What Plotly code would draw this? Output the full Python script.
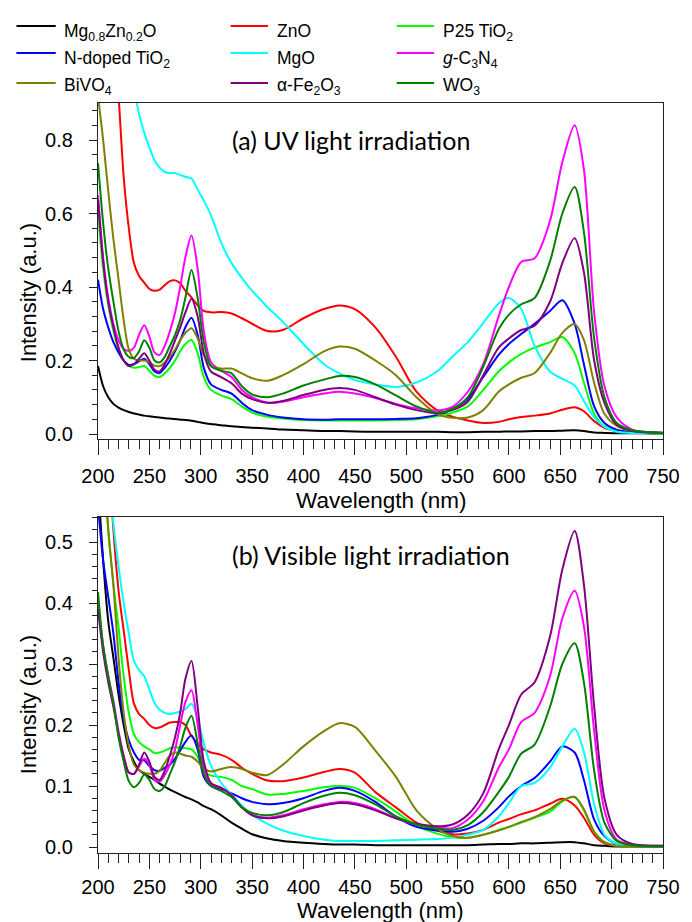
import plotly.graph_objects as go

# ---------------- data ----------------
WL = [200, 205, 210, 215, 220, 225, 230, 235, 240, 245,
      250, 255, 260, 265, 270, 275, 280, 285, 291, 297,
      303, 310, 320, 330, 340, 350, 365, 380, 400,
      420, 435, 450, 470, 490, 510, 530, 545,
      560, 575, 590, 600, 612, 625, 640, 652, 664,
      673, 683, 693, 705, 720, 750]

NAMES = ["Mg<sub>0.8</sub>Zn<sub>0.2</sub>O", "ZnO", "P25 TiO<sub>2</sub>",
         "N-doped TiO<sub>2</sub>", "MgO", "<i>g</i>-C<sub>3</sub>N<sub>4</sub>",
         "BiVO<sub>4</sub>", "α-Fe<sub>2</sub>O<sub>3</sub>", "WO<sub>3</sub>"]

# (a) UV light irradiation
A_MG = [0.185, 0.13, 0.10, 0.082, 0.072, 0.065, 0.060, 0.056, 0.053, 0.050,
        0.048, 0.046, 0.045, 0.043, 0.042, 0.041, 0.039, 0.038, 0.036, 0.033,
        0.030, 0.027, 0.024, 0.021, 0.019, 0.017, 0.015, 0.012, 0.010,
        0.008, 0.008, 0.007, 0.006, 0.006, 0.006, 0.006, 0.005,
        0.005, 0.006, 0.006, 0.007, 0.007, 0.008, 0.008, 0.009, 0.010,
        0.008, 0.004, 0.003, 0.002, 0.002, 0.002]
A_ZNO = [1.70, 1.50, 1.30, 1.10, 0.92, 0.70, 0.56, 0.465, 0.43, 0.412,
         0.395, 0.39, 0.393, 0.405, 0.416, 0.418, 0.41, 0.39, 0.372, 0.35,
         0.335, 0.331, 0.332, 0.328, 0.315, 0.30, 0.28, 0.283, 0.315,
         0.34, 0.35, 0.34, 0.29, 0.21, 0.115, 0.065, 0.047,
         0.037, 0.03, 0.033, 0.04, 0.046, 0.05, 0.056, 0.066, 0.073,
         0.062, 0.035, 0.017, 0.008, 0.004, 0.002]
A_P25 = [0.60, 0.45, 0.35, 0.28, 0.23, 0.20, 0.185, 0.18, 0.182, 0.185,
         0.172, 0.158, 0.155, 0.165, 0.18, 0.20, 0.225, 0.245, 0.256, 0.22,
         0.155, 0.12, 0.105, 0.095, 0.075, 0.058, 0.047, 0.042, 0.038,
         0.037, 0.037, 0.037, 0.037, 0.038, 0.040, 0.048, 0.058,
         0.075, 0.12, 0.17, 0.195, 0.218, 0.235, 0.25, 0.264, 0.22,
         0.14, 0.055, 0.02, 0.008, 0.004, 0.002]
A_NTIO = [0.42, 0.34, 0.29, 0.25, 0.222, 0.20, 0.188, 0.19, 0.198, 0.205,
          0.19, 0.17, 0.166, 0.18, 0.20, 0.225, 0.255, 0.29, 0.316, 0.27,
          0.18, 0.135, 0.12, 0.11, 0.085, 0.065, 0.052, 0.045, 0.040,
          0.039, 0.040, 0.040, 0.040, 0.041, 0.043, 0.052, 0.068,
          0.095, 0.155, 0.215, 0.245, 0.272, 0.30, 0.335, 0.364, 0.30,
          0.19, 0.075, 0.03, 0.012, 0.005, 0.002]
A_MGO = [1.40, 1.35, 1.28, 1.20, 1.13, 1.06, 1.00, 0.94, 0.87, 0.82,
         0.78, 0.745, 0.725, 0.713, 0.71, 0.71, 0.705, 0.70, 0.695, 0.665,
         0.635, 0.595, 0.52, 0.465, 0.425, 0.39, 0.345, 0.305, 0.245,
         0.19, 0.165, 0.147, 0.135, 0.128, 0.14, 0.17, 0.21,
         0.25, 0.302, 0.355, 0.37, 0.34, 0.24, 0.17, 0.15, 0.132,
         0.09, 0.045, 0.02, 0.006, 0.003, 0.002]
A_GCN = [0.65, 0.48, 0.37, 0.30, 0.255, 0.232, 0.226, 0.235, 0.27, 0.296,
         0.265, 0.222, 0.215, 0.24, 0.28, 0.33, 0.40, 0.48, 0.54, 0.45,
         0.28, 0.195, 0.172, 0.155, 0.12, 0.10, 0.085, 0.088, 0.10,
         0.11, 0.115, 0.11, 0.098, 0.082, 0.07, 0.064, 0.074,
         0.115, 0.19, 0.32, 0.40, 0.468, 0.478, 0.58, 0.74, 0.84,
         0.72, 0.33, 0.13, 0.045, 0.012, 0.004]
A_BIVO = [0.92, 0.80, 0.66, 0.53, 0.42, 0.31, 0.23, 0.205, 0.20, 0.20,
          0.195, 0.186, 0.185, 0.195, 0.21, 0.23, 0.255, 0.275, 0.288, 0.26,
          0.215, 0.185, 0.178, 0.178, 0.165, 0.152, 0.145, 0.16, 0.19,
          0.225, 0.238, 0.232, 0.20, 0.16, 0.10, 0.055, 0.044,
          0.045, 0.065, 0.115, 0.135, 0.153, 0.166, 0.22, 0.275, 0.299,
          0.256, 0.139, 0.055, 0.022, 0.008, 0.003]
A_FE = [0.637, 0.47, 0.36, 0.29, 0.235, 0.20, 0.185, 0.19, 0.205, 0.22,
        0.20, 0.175, 0.17, 0.19, 0.22, 0.255, 0.29, 0.33, 0.368, 0.32,
        0.22, 0.17, 0.155, 0.138, 0.11, 0.095, 0.085, 0.09, 0.106,
        0.12, 0.125, 0.12, 0.10, 0.08, 0.065, 0.056, 0.065,
        0.088, 0.16, 0.235, 0.26, 0.283, 0.295, 0.36, 0.465, 0.533,
        0.44, 0.20, 0.085, 0.025, 0.008, 0.003]
A_WO3 = [0.737, 0.574, 0.45, 0.36, 0.28, 0.23, 0.21, 0.207, 0.225, 0.255,
         0.235, 0.20, 0.195, 0.21, 0.24, 0.27, 0.31, 0.37, 0.446, 0.37,
         0.25, 0.185, 0.172, 0.165, 0.13, 0.108, 0.10, 0.11, 0.132,
         0.148, 0.158, 0.155, 0.135, 0.105, 0.075, 0.058, 0.068,
         0.10, 0.183, 0.285, 0.325, 0.353, 0.37, 0.47, 0.60, 0.672,
         0.55, 0.26, 0.10, 0.03, 0.01, 0.003]

# (b) Visible light irradiation
B_MG = [0.60, 0.47, 0.37, 0.31, 0.25, 0.20, 0.16, 0.14, 0.126, 0.12,
        0.115, 0.11, 0.104, 0.099, 0.094, 0.09, 0.086, 0.082, 0.078, 0.073,
        0.067, 0.062, 0.052, 0.04, 0.03, 0.021, 0.014, 0.01, 0.007,
        0.005, 0.004, 0.004, 0.003, 0.003, 0.003, 0.003, 0.003,
        0.003, 0.004, 0.005, 0.005, 0.006, 0.006, 0.007, 0.008, 0.008,
        0.006, 0.003, 0.002, 0.001, 0.001, 0.001]
B_ZNO = [0.95, 0.80, 0.65, 0.52, 0.42, 0.355, 0.29, 0.235, 0.218, 0.21,
         0.20, 0.195, 0.196, 0.20, 0.204, 0.205, 0.205, 0.20, 0.182, 0.17,
         0.16, 0.155, 0.151, 0.143, 0.13, 0.12, 0.109, 0.108, 0.114,
         0.123, 0.128, 0.122, 0.09, 0.065, 0.04, 0.027, 0.021,
         0.022, 0.028, 0.04, 0.046, 0.054, 0.06, 0.071, 0.079, 0.068,
         0.048, 0.02, 0.006, 0.002, 0.001, 0.001]
B_P25 = [0.75, 0.62, 0.52, 0.43, 0.36, 0.28, 0.22, 0.185, 0.172, 0.165,
         0.16, 0.154, 0.155, 0.158, 0.162, 0.163, 0.163, 0.162, 0.16, 0.148,
         0.125, 0.117, 0.115, 0.11, 0.10, 0.095, 0.086, 0.087, 0.092,
         0.098, 0.10, 0.097, 0.08, 0.058, 0.035, 0.022, 0.016,
         0.015, 0.02, 0.028, 0.033, 0.04, 0.048, 0.058, 0.075, 0.082,
         0.06, 0.025, 0.008, 0.002, 0.001, 0.001]
B_NTIO = [0.56, 0.47, 0.41, 0.35, 0.27, 0.21, 0.175, 0.155, 0.143, 0.142,
          0.133, 0.126, 0.125, 0.13, 0.135, 0.145, 0.158, 0.172, 0.183, 0.16,
          0.115, 0.10, 0.095, 0.088, 0.08, 0.074, 0.07, 0.072, 0.08,
          0.092, 0.097, 0.092, 0.074, 0.05, 0.033, 0.027, 0.025,
          0.03, 0.043, 0.065, 0.083, 0.10, 0.113, 0.14, 0.165, 0.155,
          0.11, 0.045, 0.018, 0.005, 0.002, 0.001]
B_MGO = [0.90, 0.75, 0.62, 0.53, 0.46, 0.40, 0.35, 0.305, 0.29, 0.28,
         0.258, 0.236, 0.225, 0.22, 0.218, 0.22, 0.222, 0.226, 0.235, 0.21,
         0.17, 0.133, 0.105, 0.086, 0.068, 0.053, 0.038, 0.027, 0.018,
         0.012, 0.01, 0.01, 0.01, 0.011, 0.012, 0.013, 0.015,
         0.02, 0.028, 0.05, 0.072, 0.10, 0.105, 0.13, 0.165, 0.194,
         0.156, 0.07, 0.02, 0.005, 0.002, 0.001]
B_GCN = [0.40, 0.33, 0.28, 0.24, 0.19, 0.15, 0.122, 0.12, 0.132, 0.145,
         0.135, 0.11, 0.107, 0.118, 0.135, 0.16, 0.20, 0.237, 0.257, 0.20,
         0.13, 0.102, 0.097, 0.085, 0.065, 0.053, 0.048, 0.052, 0.062,
         0.07, 0.074, 0.072, 0.062, 0.047, 0.037, 0.032, 0.031,
         0.045, 0.075, 0.13, 0.16, 0.205, 0.22, 0.28, 0.375, 0.42,
         0.362, 0.19, 0.06, 0.012, 0.004, 0.002]
B_BIVO = [0.85, 0.68, 0.52, 0.43, 0.31, 0.22, 0.165, 0.135, 0.126, 0.122,
          0.12, 0.12, 0.125, 0.138, 0.15, 0.155, 0.153, 0.15, 0.148, 0.14,
          0.128, 0.124, 0.128, 0.131, 0.128, 0.122, 0.118, 0.135, 0.165,
          0.19, 0.203, 0.197, 0.158, 0.115, 0.06, 0.03, 0.018,
          0.015, 0.02, 0.027, 0.033, 0.041, 0.049, 0.062, 0.076, 0.082,
          0.062, 0.025, 0.008, 0.002, 0.001, 0.001]
B_FE = [0.39, 0.32, 0.27, 0.23, 0.185, 0.148, 0.122, 0.12, 0.135, 0.155,
        0.14, 0.115, 0.11, 0.125, 0.15, 0.18, 0.22, 0.275, 0.305, 0.23,
        0.14, 0.105, 0.097, 0.085, 0.065, 0.052, 0.047, 0.05, 0.06,
        0.068, 0.072, 0.07, 0.06, 0.047, 0.038, 0.034, 0.037,
        0.053, 0.088, 0.16, 0.20, 0.25, 0.27, 0.345, 0.455, 0.518,
        0.43, 0.23, 0.08, 0.02, 0.005, 0.002]
B_WO3 = [0.418, 0.33, 0.28, 0.235, 0.18, 0.14, 0.108, 0.098, 0.105, 0.119,
         0.11, 0.095, 0.092, 0.10, 0.12, 0.14, 0.165, 0.195, 0.215, 0.17,
         0.12, 0.10, 0.092, 0.082, 0.065, 0.056, 0.052, 0.057, 0.072,
         0.084, 0.089, 0.085, 0.07, 0.05, 0.037, 0.03, 0.028,
         0.036, 0.057, 0.09, 0.115, 0.153, 0.168, 0.23, 0.30, 0.334,
         0.27, 0.125, 0.04, 0.01, 0.003, 0.001]

X_TICKS = [200, 250, 300, 350, 400, 450, 500, 550, 600, 650, 700, 750]
X_TITLE = "Wavelength (nm)"
Y_TITLE = "Intensity (a.u.)"
PANEL_A = "(a) UV light irradiation"
PANEL_B = "(b) Visible light irradiation"

# ---------------- style ----------------
COLORS = ["#000000", "#FF0000", "#00FF00", "#0000FF", "#00FFFF",
          "#FF00FF", "#808000", "#800080", "#008000"]
SERIES_A = [A_MG, A_ZNO, A_P25, A_NTIO, A_MGO, A_GCN, A_BIVO, A_FE, A_WO3]
SERIES_B = [B_MG, B_ZNO, B_P25, B_NTIO, B_MGO, B_GCN, B_BIVO, B_FE, B_WO3]

W, H = 692, 922
L, R, T, B = 98, 673, 103, 853
PW, PH = R - L, B - T


def px(xp):
    return (xp - L) / PW


def py(yp):
    return (B - yp) / PH


ARIAL = "Liberation Sans, Arial, sans-serif"

fig = go.Figure()
for name, col, ya, yb in zip(NAMES, COLORS, SERIES_A, SERIES_B):
    fig.add_trace(go.Scatter(x=WL, y=ya, mode="lines", name=name,
                             line=dict(color=col, width=2, shape="spline", smoothing=0.8),
                             xaxis="x", yaxis="y", showlegend=False))
    fig.add_trace(go.Scatter(x=WL, y=yb, mode="lines", name=name,
                             line=dict(color=col, width=2, shape="spline", smoothing=0.8),
                             xaxis="x2", yaxis="y2", showlegend=False))


def xaxis_style(standoff):
    return dict(range=[200, 750], tickmode="array", tickvals=X_TICKS,
                ticks="outside", ticklen=15, tickwidth=1.3, tickcolor="#222",
                minor=dict(tickmode="linear", tick0=200, dtick=10, ticks="outside",
                           ticklen=9, tickwidth=1, tickcolor="#222"),
                showline=True, linecolor="#222", linewidth=1.3, mirror=True,
                showgrid=False, zeroline=False,
                tickfont=dict(family=ARIAL, size=20, color="black"),
                ticklabelstandoff=standoff)


ycommon = dict(ticks="outside", ticklen=8, tickwidth=1.3, tickcolor="#222",
               showline=True, linecolor="#222", linewidth=1.3, mirror=True,
               showgrid=False, zeroline=False, tickformat=".1f",
               tickfont=dict(family=ARIAL, size=20, color="black"),
               ticklabelstandoff=12)

top_dom = [py(439), 1.0]
bot_dom = [0.0, py(517)]

fig.update_layout(
    width=W, height=H,
    margin=dict(l=L, r=W - R, t=T, b=H - B, pad=0),
    paper_bgcolor="white", plot_bgcolor="white",
    showlegend=False,
    xaxis=dict(domain=[0, 1], anchor="y", **xaxis_style(4)),
    yaxis=dict(domain=top_dom, anchor="x", range=[-0.0136, 0.9007],
               tickmode="linear", tick0=0, dtick=0.2,
               minor=dict(tickmode="linear", tick0=0, dtick=0.04, ticks="outside",
                          ticklen=5, tickwidth=1, tickcolor="#222"),
               **ycommon),
    xaxis2=dict(domain=[0, 1], anchor="y2", **xaxis_style(1)),
    yaxis2=dict(domain=bot_dom, anchor="x2", range=[-0.0098, 0.541],
                tickmode="linear", tick0=0, dtick=0.1,
                minor=dict(tickmode="linear", tick0=0, dtick=0.02, ticks="outside",
                           ticklen=5, tickwidth=1, tickcolor="#222"),
                **ycommon),
)

ann = []
# axis titles
for yc, fs in ((500, 22.5), (910, 22)):
    ann.append(dict(text=X_TITLE, x=0.5, y=py(yc), xref="paper", yref="paper",
                    xanchor="center", yanchor="middle", showarrow=False,
                    font=dict(family=ARIAL, size=fs, color="black")))
for yc in (293, 705):
    ann.append(dict(text=Y_TITLE, x=px(27), y=py(yc), xref="paper", yref="paper",
                    xanchor="center", yanchor="middle", showarrow=False, textangle=-90,
                    font=dict(family=ARIAL, size=22, color="black")))
# panel labels
ann.append(dict(text=PANEL_A, x=px(232), y=py(140), xref="paper", yref="paper",
                xanchor="left", yanchor="middle", showarrow=False,
                font=dict(family="Lato, sans-serif", size=25, color="black")))
ann.append(dict(text=PANEL_B, x=px(232), y=py(555), xref="paper", yref="paper",
                xanchor="left", yanchor="middle", showarrow=False,
                font=dict(family="Lato, sans-serif", size=25, color="black")))

# legend (3 columns x 3 rows)
col_line = [(15, 55), (233, 271), (402, 440)]
col_text = [61, 278, 447]
row_line = [26, 53, 83]
row_top = [19, 46, 73]
shapes = []
for i, (name, col) in enumerate(zip(NAMES, COLORS)):
    r, c = divmod(i, 3)
    x0, x1 = col_line[c]
    shapes.append(dict(type="line", xref="paper", yref="paper",
                       x0=px(x0), x1=px(x1), y0=py(row_line[r]), y1=py(row_line[r]),
                       line=dict(color=col, width=2)))
    ann.append(dict(text=name, x=px(col_text[c]), y=py(row_top[r]), xref="paper",
                    yref="paper", xanchor="left", yanchor="top", showarrow=False,
                    font=dict(family=ARIAL, size=17.5, color="black")))

fig.update_layout(annotations=ann, shapes=shapes)

fig.write_html("out.html")
